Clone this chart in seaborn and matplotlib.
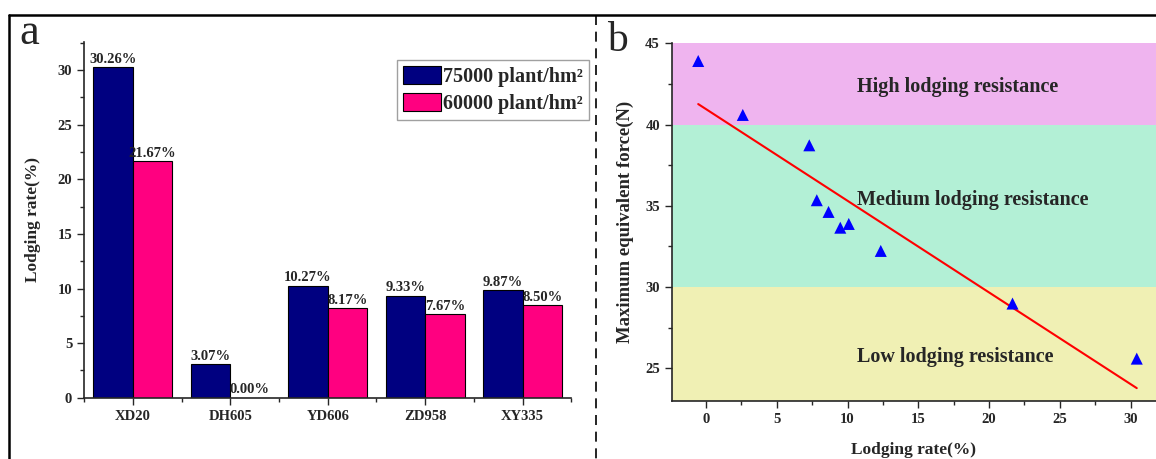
import numpy as np
import pandas as pd
import matplotlib
matplotlib.use("Agg")
import matplotlib.pyplot as plt
import seaborn as sns
from matplotlib.lines import Line2D
from matplotlib.ticker import MultipleLocator, FixedLocator

# data
varieties = ['XD20', 'DH605', 'YD606', 'ZD958', 'XY335']
rate_75000 = [30.26, 3.07, 10.27, 9.33, 9.87]
rate_60000 = [21.67, 0.00, 8.17, 7.67, 8.50]
density_labels = ['75000 plant/hm²', '60000 plant/hm²']

lodging_rate = [-0.55, 2.60, 7.30, 7.83, 8.66, 9.49, 10.09, 12.35, 21.66, 30.44]
max_force = [43.91, 40.59, 38.72, 35.34, 34.62, 33.65, 33.88, 32.22, 28.98, 25.59]

zones = ['High lodging resistance', 'Medium lodging resistance', 'Low lodging resistance']
zone_limits = [(40, 45), (30, 40), (23, 30)]
zone_colors = ['#EFB4EF', '#B3F0D6', '#F0F0B4']

sns.set_style("ticks")
plt.rcParams['font.family'] = ['Liberation Serif', 'DejaVu Serif']
plt.rcParams['font.weight'] = 'bold'
plt.rcParams['axes.labelweight'] = 'bold'

fig = plt.figure(figsize=(11.56, 4.59), dpi=100)

#%% panel a
bar_df = pd.DataFrame({
    'variety': varieties * 2,
    'rate': rate_75000 + rate_60000,
    'density': [density_labels[0]] * 5 + [density_labels[1]] * 5,
})
ax1 = fig.add_axes([0.0727, 0.1335, 0.4216, 0.7757])
sns.barplot(data=bar_df, x='variety', y='rate', hue='density', ax=ax1,
            palette=['#000080', '#FF0080'], width=0.81, edgecolor='black',
            linewidth=0.8, saturation=1, errorbar=None)
for cont in ax1.containers:
    ax1.bar_label(cont, fmt='%.2f%%', fontsize=10.5, fontweight='bold', padding=1)
ax1.set_xlim(-0.5, 4.5)
ax1.set_ylim(0, 32.6)
ax1.yaxis.set_major_locator(MultipleLocator(5))
ax1.yaxis.set_minor_locator(MultipleLocator(2.5))
ax1.xaxis.set_minor_locator(FixedLocator(np.arange(-0.5, 5, 1)))
ax1.tick_params(axis='both', which='major', length=5, width=1, labelsize=10.5)
ax1.tick_params(axis='both', which='minor', length=3, width=1)
ax1.set_xlabel('')
ax1.set_ylabel('Lodging rate(%)', fontsize=12.5, labelpad=12)
for s in ['top', 'right']:
    ax1.spines[s].set_visible(False)
for s in ['left', 'bottom']:
    ax1.spines[s].set_linewidth(1.2)
leg = ax1.legend(loc='upper right', bbox_to_anchor=(1.036, 0.949), fontsize=14.5,
                 frameon=True, fancybox=False, edgecolor='#888888',
                 handlelength=1.9, handleheight=1.0, handletextpad=0.1,
                 borderpad=0.3, labelspacing=0.3, borderaxespad=0)
leg.get_frame().set_linewidth(1)
for h in leg.legend_handles:
    h.set_edgecolor('black')

#%% panel b
ax2 = fig.add_axes([0.5811, 0.127, 0.4189, 0.7787])
for (lo, hi), c in zip(zone_limits, zone_colors):
    ax2.axhspan(lo, hi, color=c, lw=0, zorder=0)
sns.regplot(x=lodging_rate, y=max_force, ax=ax2, ci=None, truncate=True,
            scatter=False, line_kws={'color': 'red', 'lw': 1.5})
sns.scatterplot(x=lodging_rate, y=max_force, ax=ax2, marker='^', s=75,
                color='blue', edgecolor='none', zorder=4)
ax2.set_xlim(-2.42, 31.8)
ax2.set_ylim(23, 45)
zone_y = [42.3, 35.35, 25.7]
for name, zy in zip(zones, zone_y):
    ax2.text(10.7, zy, name, fontsize=14.5, fontweight='bold', va='center', ha='left')
ax2.xaxis.set_major_locator(MultipleLocator(5))
ax2.xaxis.set_minor_locator(MultipleLocator(2.5))
ax2.yaxis.set_major_locator(MultipleLocator(5))
ax2.yaxis.set_minor_locator(MultipleLocator(2.5))
ax2.tick_params(axis='both', which='major', length=5, width=1, labelsize=10.5)
ax2.tick_params(axis='both', which='minor', length=3, width=1)
ax2.set_xlabel('Lodging rate(%)', fontsize=12.5, labelpad=12)
ax2.set_ylabel('Maximum equivalent force(N)', fontsize=13.5, labelpad=8)
for s in ['top', 'right']:
    ax2.spines[s].set_visible(False)
for s in ['left', 'bottom']:
    ax2.spines[s].set_linewidth(1.2)

#%% panel letters and frame
fig.text(0.017, 0.905, 'a', fontsize=32, fontweight='normal', va='baseline')
fig.text(0.525, 0.888, 'b', fontsize=30, fontweight='normal', va='baseline')
fig.add_artist(Line2D([0.0078, 1.0], [0.967, 0.967], color='black', lw=1.8))
fig.add_artist(Line2D([0.0078, 0.0078], [0.967, 0.0], color='black', lw=1.8))
fig.add_artist(Line2D([0.516, 0.516], [0.967, 0.0], color='black', lw=1.2,
                      dashes=(6, 4)))

fig.savefig('out.png', dpi=100)
